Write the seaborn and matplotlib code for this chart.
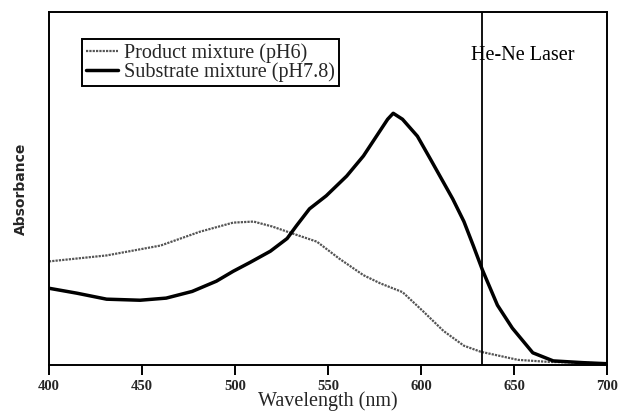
import matplotlib
matplotlib.use("Agg")
import matplotlib.pyplot as plt
import seaborn as sns
import pandas as pd

# Absorption spectra (arbitrary absorbance units)
wl_substrate = [400, 415, 431, 449, 463, 477, 490, 499, 508, 519, 528, 533, 540,
                549, 560, 569, 576, 582, 585, 590, 598, 605, 617, 623, 628, 633,
                641, 649, 660, 671, 687, 700]
abs_substrate = [0.217, 0.203, 0.186, 0.183, 0.189, 0.208, 0.237, 0.265, 0.290,
                 0.322, 0.358, 0.394, 0.442, 0.479, 0.535, 0.592, 0.648, 0.696,
                 0.713, 0.696, 0.648, 0.583, 0.470, 0.406, 0.338, 0.268, 0.169,
                 0.104, 0.034, 0.011, 0.006, 0.003]

wl_product = [400, 431, 460, 481, 499, 510, 520, 531, 544, 556, 569, 578, 590,
              601, 612, 623, 632, 652, 669, 687, 700]
abs_product = [0.293, 0.310, 0.338, 0.377, 0.403, 0.406, 0.392, 0.372, 0.349,
               0.301, 0.254, 0.231, 0.206, 0.152, 0.096, 0.054, 0.037, 0.014,
               0.008, 0.006, 0.003]

laser_nm = 632.8
x_ticks = [400, 450, 500, 550, 600, 650, 700]

sns.set_theme(style="ticks")
plt.rcParams["font.family"] = ["Liberation Serif", "DejaVu Serif"]

fig = plt.figure(figsize=(6.19, 4.15), dpi=100)
ax = fig.add_axes([0.079, 0.121, 0.902, 0.850])

df_p = pd.DataFrame({"wl": wl_product, "A": abs_product})
df_s = pd.DataFrame({"wl": wl_substrate, "A": abs_substrate})

sns.lineplot(data=df_p, x="wl", y="A", ax=ax, color="#555555", lw=1.6,
             linestyle=(0, (1, 0.5)), label="Product mixture (pH6)")
sns.lineplot(data=df_s, x="wl", y="A", ax=ax, color="black", lw=2.5,
             label="Substrate mixture (pH7.8)")

ax.axvline(laser_nm, color="black", lw=1.3)
ax.text(laser_nm - 6, 0.878, "He-Ne Laser", fontsize=14.5, ha="left",
        va="center", color="black")

ax.set_xlim(400, 700)
ax.set_ylim(0, 1)
ax.set_xticks(x_ticks)
ax.set_xticklabels([str(t) for t in x_ticks], fontweight="bold", fontsize=10.5)
ax.set_yticks([])
ax.tick_params(axis="x", direction="out", length=7, width=1.4, color="black",
               pad=4)

for sp in ax.spines.values():
    sp.set_color("black")
    sp.set_linewidth(1.4)
    sp.set_visible(True)

ax.set_xlabel("Wavelength (nm)", fontsize=14.5, labelpad=-1)
ax.set_ylabel("Absorbance", fontsize=10, fontweight="bold",
              family=["DejaVu Sans"], labelpad=15)

leg = ax.legend(loc="upper left", bbox_to_anchor=(0.059, 0.924),
                borderaxespad=0, fontsize=14.5, handlelength=1.6,
                handletextpad=0.3, borderpad=0.2, labelspacing=0.0,
                frameon=True, fancybox=False, framealpha=1)
leg.get_frame().set_edgecolor("black")
leg.get_frame().set_linewidth(1.4)

fig.savefig("out.png", dpi=100)
